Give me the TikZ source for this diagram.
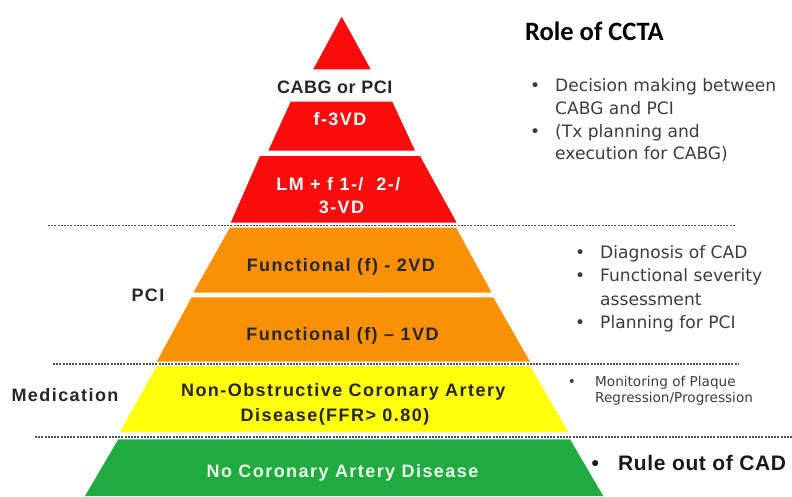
\documentclass[tikz,border=0pt]{standalone}
\usepackage{fontspec}
\setmainfont{Liberation Sans}
\newfontfamily\notefont{DejaVu Sans}
\newfontfamily\headfont{Carlito}
\definecolor{cabgred}{RGB}{250,12,12}
\definecolor{pciorange}{RGB}{250,144,6}
\definecolor{medyellow}{RGB}{255,255,10}
\definecolor{cadgreen}{RGB}{34,170,66}
\definecolor{notegray}{RGB}{60,60,60}
\tikzstyle{lvl}=[anchor=base,inner sep=0pt,font=\fontsize{18}{23}\selectfont\bfseries\addfontfeature{LetterSpace=8}]
\tikzstyle{side}=[lvl,text=black!85]
\tikzstyle{cutline}=[draw=black!68,line width=1.6pt,dash pattern=on 2pt off 1.2pt]
\tikzstyle{note}=[anchor=base west,inner sep=0pt,text=notegray,font=\notefont\fontsize{17.1}{22}\selectfont]
\tikzstyle{notesmall}=[note,font=\notefont\fontsize{13.6}{16}\selectfont]

\begin{document}
\begin{tikzpicture}[x=1pt,y=-1pt]
\useasboundingbox (0,0) rectangle (792,496);
% pyramid, top to bottom
\fill[cabgred] (341.7,16.7) -- (370.7,69.3) -- (313.3,69.3) -- cycle;
\fill[cabgred] (290.7,101.7) -- (392.3,101.7) -- (415,150.7) -- (268.3,150.7) -- cycle;
\fill[cabgred] (260,156) -- (420,156) -- (456.7,222.7) -- (230.7,222.7) -- cycle;
\fill[pciorange] (230,227.5) -- (456,227.5) -- (491.7,292.7) -- (193.3,292.7) -- cycle;
\fill[pciorange] (191.7,297.3) -- (493.3,297.3) -- (530,361.7) -- (156.7,361.7) -- cycle;
\fill[medyellow] (156.7,366) -- (530,366) -- (568.3,432) -- (120,432) -- cycle;
\fill[cadgreen] (118.3,439.3) -- (570,439.3) -- (603.3,496) -- (85,496) -- cycle;
% dashed separators
\draw[cutline] (48,225.5) -- (735,225.5); \draw[cutline] (53,363.7) -- (738,363.7); \draw[cutline] (35,437) -- (792,437);
% labels in the pyramid
\node[lvl,text=black!85,font=\fontsize{18}{23}\selectfont\bfseries\addfontfeature{LetterSpace=3}] (cabgpci) at (334.7,93.3) {CABG or PCI};
\node[lvl,text=white] (f3vd) at (340,125) {f-3VD};
\node[lvl,text=white] (lm1) at (338.3,190) {LM + f 1-/\ \ 2-/}; \node[lvl,text=white] (lm2) at (341.5,213.3) {3-VD};
\node[lvl,text=black!85] (f2vd) at (340.8,271.7) {Functional (f) - 2VD};
\node[lvl,text=black!85] (f1vd) at (342.5,340) {Functional (f) -- 1VD};
\node[lvl,text=black!85] (nonobs1) at (343.3,396) {Non-Obstructive Coronary Artery}; \node[lvl,text=black!85] (nonobs2) at (335,421) {Disease(FFR> 0.80)};
\node[lvl,text=green!8] (nocad) at (342.5,477.6) {No Coronary Artery Disease};
% therapy on the left
\node[side] (pci) at (148,301.7) {PCI};
\node[side] (medic) at (65,401) {Medication};
% role of CCTA on the right
\node[anchor=base west,inner sep=0pt,font=\headfont\bfseries\fontsize{26.5}{30}\selectfont] (role) at (525,40) {Role of CCTA};
\node[note] (r1a) at (530,91.7) {\makebox[25pt][l]{\textbullet}Decision making between}; \node[note] (r1b) at (555,114.4) {CABG and PCI};
\node[note] (r1c) at (530,137) {\makebox[25pt][l]{\textbullet}(Tx planning and}; \node[note] (r1d) at (555,159.7) {execution for CABG)};
\node[note] (r2a) at (575,258.3) {\makebox[25pt][l]{\textbullet}Diagnosis of CAD}; \node[note] (r2b) at (575,281.6) {\makebox[25pt][l]{\textbullet}Functional severity};
\node[note] (r2c) at (600,305) {assessment}; \node[note] (r2d) at (575,328.3) {\makebox[25pt][l]{\textbullet}Planning for PCI};
\node[notesmall] (r3a) at (567.7,386) {\makebox[27.3pt][l]{\textbullet}Monitoring of Plaque}; \node[notesmall] (r3b) at (595,402.7) {Regression/Progression};
\node[anchor=base west,inner sep=0pt,text=black!90,font=\fontsize{21}{25}\selectfont\bfseries\addfontfeature{LetterSpace=3}] (ruleout) at (591.3,470.7) {\makebox[26.7pt][l]{\textbullet}Rule out of CAD};
\end{tikzpicture}
\end{document}
